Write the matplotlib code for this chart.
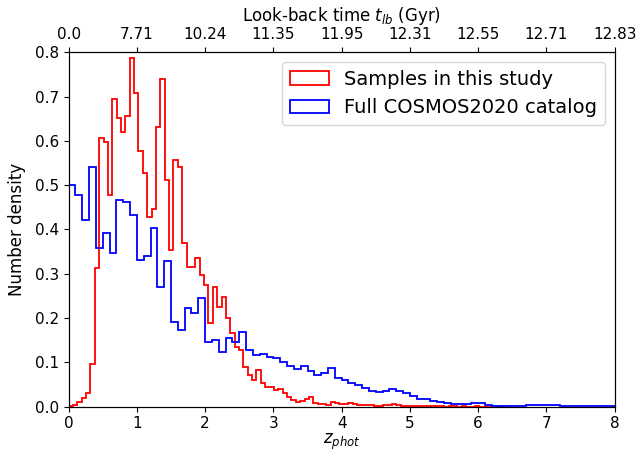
import matplotlib
matplotlib.use("Agg")
import matplotlib.pyplot as plt
import numpy as np

# Number density per bin
# red sample: 100 bins of width 0.064 starting at z=0
sample_density = [
    0.001, 0.003, 0.010, 0.019, 0.030, 0.096, 0.312, 0.606, 0.597, 0.478,
    0.694, 0.651, 0.621, 0.656, 0.786, 0.709, 0.576, 0.527, 0.429, 0.446,
    0.632, 0.739, 0.512, 0.354, 0.557, 0.542, 0.369, 0.316, 0.316, 0.335,
    0.297, 0.275, 0.188, 0.271, 0.226, 0.248, 0.200, 0.166, 0.135, 0.128,
    0.090, 0.072, 0.060, 0.083, 0.053, 0.045, 0.045, 0.038, 0.040, 0.030,
    0.022, 0.015, 0.011, 0.012, 0.018, 0.021, 0.008, 0.005, 0.005, 0.003,
    0.010, 0.008, 0.006, 0.005, 0.008, 0.007, 0.004, 0.003, 0.003, 0.003,
    0.002, 0.002, 0.003, 0.004, 0.006, 0.003, 0.002, 0.001, 0.002, 0.001,
    0.001, 0.001, 0.002, 0.002, 0.001, 0.001, 0.000, 0.001, 0.001, 0.000,
    0.001, 0.000, 0.000, 0.001, 0.000, 0.000, 0.000, 0.001, 0.000, 0.000,
]
sample_range = (0.0, 6.4)

# blue full catalog: 80 bins of width 0.1 from 0 to 8
catalog_density = [
    0.500, 0.478, 0.421, 0.542, 0.358, 0.391, 0.346, 0.467, 0.463, 0.433,
    0.331, 0.339, 0.403, 0.271, 0.329, 0.192, 0.173, 0.222, 0.211, 0.245,
    0.147, 0.151, 0.124, 0.154, 0.147, 0.169, 0.128, 0.117, 0.118, 0.113,
    0.111, 0.102, 0.092, 0.085, 0.092, 0.081, 0.072, 0.075, 0.087, 0.064,
    0.061, 0.053, 0.049, 0.043, 0.036, 0.034, 0.036, 0.039, 0.036, 0.032,
    0.025, 0.018, 0.017, 0.013, 0.010, 0.008, 0.006, 0.006, 0.006, 0.008,
    0.008, 0.003, 0.002, 0.002, 0.002, 0.002, 0.002, 0.003, 0.003, 0.003,
    0.003, 0.003, 0.002, 0.002, 0.001, 0.001, 0.001, 0.001, 0.001, 0.001,
]
catalog_range = (0.0, 8.0)

top_tick_z = [0, 1, 2, 3, 4, 5, 6, 7, 8]
lookback_labels = ['0.0', '7.71', '10.24', '11.35', '11.95', '12.31', '12.55', '12.71', '12.83']

red_edges = np.linspace(*sample_range, len(sample_density) + 1)
blue_edges = np.linspace(*catalog_range, len(catalog_density) + 1)

fig = plt.figure(figsize=(6.41, 4.58), dpi=100)
ax = fig.add_axes([0.107, 0.112, 0.852, 0.774])

ax.hist(red_edges[:-1], bins=red_edges, weights=sample_density, histtype='step',
        color='red', lw=1.3, label='Samples in this study')
ax.hist(blue_edges[:-1], bins=blue_edges, weights=catalog_density, histtype='step',
        color='blue', lw=1.3, label='Full COSMOS2020 catalog')

ax.set_xlim(0, 8)
ax.set_ylim(0, 0.8)
ax.set_xlabel('$z_{phot}$', fontsize=12, labelpad=0)
ax.set_ylabel('Number density', fontsize=12, labelpad=6)
ax.tick_params(labelsize=11)
ax.legend(loc='upper right', fontsize=14)

ax2 = ax.twiny()
ax2.set_xlim(ax.get_xlim())
ax2.set_xticks(top_tick_z)
ax2.set_xticklabels(lookback_labels)
ax2.tick_params(labelsize=11)
ax2.set_xlabel('Look-back time $t_{lb}$ (Gyr)', fontsize=12, labelpad=5)

fig.savefig('out.png', dpi=100)
